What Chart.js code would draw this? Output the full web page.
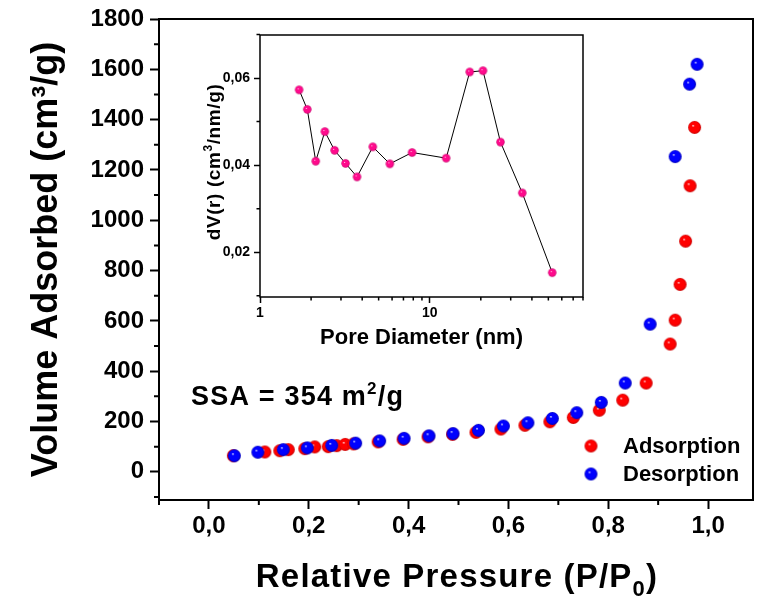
<!DOCTYPE html>
<html>
<head>
<meta charset="utf-8">
<script src="https://cdn.jsdelivr.net/npm/chart.js@4"></script>
<style>
  body { margin: 0; background: #fff; }
  #wrap { position: relative; width: 768px; height: 598px; }
  #mainChart { position: absolute; left: 0; top: 0; }
  #insetChart { position: absolute; left: 200px; top: 25px; }
</style>
</head>
<body>
<div id="wrap">
  <canvas id="mainChart" width="768" height="598"></canvas>
  <canvas id="insetChart" width="400" height="340"></canvas>
</div>
<script>
// isotherm, adsorption branch
const adsP = [0.049, 0.112, 0.142, 0.159, 0.192, 0.212, 0.239, 0.256, 0.273, 0.290, 0.339, 0.389, 0.439, 0.488,
  0.535, 0.585, 0.633, 0.683, 0.730, 0.782, 0.829, 0.876, 0.924, 0.934, 0.944, 0.955, 0.964, 0.973];
const adsV = [64, 79, 84, 88, 92, 99, 100, 104, 109, 111, 119, 129, 139, 149,
  157, 170, 185, 199, 216, 245, 285, 353, 508, 603, 745, 917, 1137, 1369];

// desorption branch
const desP = [0.051, 0.098, 0.149, 0.197, 0.246, 0.294, 0.342, 0.391, 0.441, 0.489, 0.540, 0.590, 0.639, 0.688,
  0.737, 0.786, 0.834, 0.884, 0.934, 0.963, 0.978];
const desV = [64, 78, 88, 95, 105, 114, 123, 133, 143, 152, 165, 182, 195, 212,
  235, 276, 353, 587, 1253, 1541, 1620];

const xTicks = [0, 0.2, 0.4, 0.6, 0.8, 1.0];
const xMinor = [-0.1, 0.1, 0.3, 0.5, 0.7, 0.9];
const yTicks = [0, 200, 400, 600, 800, 1000, 1200, 1400, 1600, 1800];
const yMinor = [-100, 100, 300, 500, 700, 900, 1100, 1300, 1500, 1700];

// pore size distribution (inset)
const poreD = [1.70, 1.90, 2.13, 2.41, 2.75, 3.19, 3.73, 4.62, 5.82, 7.87, 12.5, 17.2, 20.6, 26.1, 35.1, 52.7];
const poreV = [0.0573, 0.0528, 0.0409, 0.0477, 0.0434, 0.0404, 0.0373, 0.0442, 0.0403, 0.0429, 0.0416,
  0.0614, 0.0617, 0.0453, 0.0336, 0.0153];
const insetXTicks = [1, 10];
const insetXMinor = [2, 3, 4, 5, 6, 7, 8, 9, 20, 30, 40, 50, 60, 70, 80];
const insetYTicks = [0.02, 0.04, 0.06];
const insetYMinor = [0.01, 0.03, 0.05, 0.07];

const FONT = "'Liberation Sans', Arial, sans-serif";

// little shaded balls like the origin symbols
function makeBall(color, dark, r) {
  const c = document.createElement("canvas");
  const s = Math.ceil(r * 2 + 2);
  c.width = s; c.height = s;
  const g = c.getContext("2d");
  const cx = s / 2, cy = s / 2;
  const grad = g.createRadialGradient(cx - r * 0.25, cy - r * 0.3, 0, cx, cy, r);
  grad.addColorStop(0, "#ffffff");
  grad.addColorStop(0.22, color);
  grad.addColorStop(0.75, color);
  grad.addColorStop(1, dark);
  g.fillStyle = grad;
  g.beginPath();
  g.arc(cx, cy, r, 0, Math.PI * 2);
  g.fill();
  return c;
}

const redBall = makeBall("#ff0000", "#c80000", 6.5);
const blueBall = makeBall("#0000ff", "#0000b8", 6.5);
const pinkBall = makeBall("#ff0a8c", "#c8006a", 4.2);

const toXY = (xs, ys) => xs.map((x, i) => ({ x: x, y: ys[i] }));

// draws text with pieces that can be raised or lowered
function drawRich(ctx, parts, x, y, align, spacing, baseline) {
  ctx.letterSpacing = (spacing || 0) + "px";
  let total = 0;
  parts.forEach(p => {
    ctx.font = "bold " + p.size + "px " + FONT;
    p.w = ctx.measureText(p.text).width;
    total += p.w;
  });
  let cx = align === "center" ? x - total / 2 : x;
  ctx.textAlign = "left";
  ctx.textBaseline = baseline || "alphabetic";
  parts.forEach(p => {
    ctx.font = "bold " + p.size + "px " + FONT;
    ctx.fillText(p.text, cx, y + (p.dy || 0));
    cx += p.w;
  });
  ctx.letterSpacing = "0px";
}

function minorTicks(ctx, chart, xs, ys, len, width) {
  const xs_ = chart.scales.x, ys_ = chart.scales.y;
  const a = chart.chartArea;
  ctx.save();
  ctx.strokeStyle = "#000";
  ctx.lineWidth = width;
  ctx.beginPath();
  xs.forEach(v => {
    const px = xs_.getPixelForValue(v);
    ctx.moveTo(px, a.bottom);
    ctx.lineTo(px, a.bottom + len);
  });
  ys.forEach(v => {
    const py = ys_.getPixelForValue(v);
    ctx.moveTo(a.left, py);
    ctx.lineTo(a.left - len, py);
  });
  ctx.stroke();
  ctx.restore();
}

const mainDecor = {
  id: "mainDecor",
  afterDraw(chart) {
    const ctx = chart.ctx;
    const a = chart.chartArea;
    ctx.save();
    ctx.strokeStyle = "#000";
    ctx.lineWidth = 2;
    ctx.strokeRect(a.left, a.top, a.right - a.left, a.bottom - a.top);
    ctx.restore();
    minorTicks(ctx, chart, xMinor, yMinor, 5, 2);

    ctx.save();
    ctx.fillStyle = "#000";
    // x axis title with subscript
    drawRich(ctx, [
      { text: "Relative Pressure (P/P", size: 33 },
      { text: "0", size: 22, dy: 9 },
      { text: ")", size: 33 }
    ], (a.left + a.right) / 2 + 1, 587, "center", 1.2);

    // surface area note
    drawRich(ctx, [
      { text: "SSA = 354 m", size: 27 },
      { text: "2", size: 17, dy: -11 },
      { text: "/g", size: 27 }
    ], 191, 405, "left", 1.2);

    // legend
    ctx.drawImage(redBall, 591 - redBall.width / 2, 446 - redBall.height / 2);
    ctx.drawImage(blueBall, 591 - blueBall.width / 2, 474 - blueBall.height / 2);
    ctx.font = "bold 22px " + FONT;
    ctx.textAlign = "left";
    ctx.textBaseline = "middle";
    ctx.fillText("Adsorption", 623, 447);
    ctx.fillText("Desorption", 623, 475);
    ctx.restore();
  }
};

const insetDecor = {
  id: "insetDecor",
  afterDraw(chart) {
    const ctx = chart.ctx;
    const a = chart.chartArea;
    ctx.save();
    ctx.strokeStyle = "#000";
    ctx.lineWidth = 1.5;
    ctx.strokeRect(a.left, a.top, a.right - a.left, a.bottom - a.top);
    ctx.restore();
    minorTicks(ctx, chart, insetXMinor, insetYMinor, 3.5, 1.5);

    // rotated y title with a real superscript
    ctx.save();
    ctx.fillStyle = "#000";
    ctx.translate(15, (a.top + a.bottom) / 2 - 4);
    ctx.rotate(-Math.PI / 2);
    drawRich(ctx, [
      { text: "dV(r) (cm", size: 19 },
      { text: "3", size: 12, dy: -6 },
      { text: "/nm/g)", size: 19 }
    ], 0, 0, "center", 0.6, "middle");
    ctx.restore();
  }
};

new Chart(document.getElementById("mainChart"), {
  type: "scatter",
  data: {
    datasets: [
      { label: "Adsorption", data: toXY(adsP, adsV), pointStyle: redBall, pointRadius: 6, order: 1 },
      { label: "Desorption", data: toXY(desP, desV), pointStyle: blueBall, pointRadius: 6, order: 0 }
    ]
  },
  options: {
    responsive: false,
    animation: false,
    layout: { padding: { left: 0, top: 19, right: 15, bottom: 0 } },
    plugins: { legend: { display: false }, tooltip: { enabled: false } },
    scales: {
      x: {
        type: "linear",
        min: -0.1,
        max: 1.09,
        afterBuildTicks: s => { s.ticks = xTicks.map(v => ({ value: v })); },
        afterFit: s => { s.height = 98; },
        border: { display: false },
        grid: { drawOnChartArea: false, drawTicks: true, tickLength: 9, tickWidth: 2, tickColor: "#000" },
        ticks: {
          color: "#000",
          padding: 3,
          font: { family: FONT, size: 24, weight: "bold" },
          callback: v => v.toFixed(1).replace(".", ",")
        }
      },
      y: {
        min: -112,
        max: 1800,
        afterBuildTicks: s => { s.ticks = yTicks.map(v => ({ value: v })); },
        afterFit: s => { s.width = 159; s.paddingTop = 0; s.paddingBottom = 0; },
        border: { display: false },
        grid: { drawOnChartArea: false, drawTicks: true, tickLength: 9, tickWidth: 2, tickColor: "#000" },
        ticks: {
          color: "#000",
          padding: 6,
          font: { family: FONT, size: 24, weight: "bold" },
          callback: v => String(v)
        },
        title: {
          display: true,
          text: "Volume Adsorbed (cm³/g)",
          color: "#000",
          font: { family: FONT, size: 36, weight: "bold" },
          padding: { top: 25, bottom: 0 }
        }
      }
    }
  },
  plugins: [mainDecor]
});

new Chart(document.getElementById("insetChart"), {
  type: "scatter",
  data: {
    datasets: [{
      label: "PSD",
      data: toXY(poreD, poreV),
      showLine: true,
      borderColor: "#000",
      borderWidth: 1,
      pointStyle: pinkBall,
      pointRadius: 4
    }]
  },
  options: {
    responsive: false,
    animation: false,
    layout: { padding: { left: 0, top: 10, right: 17, bottom: 0 } },
    plugins: { legend: { display: false }, tooltip: { enabled: false } },
    scales: {
      x: {
        type: "logarithmic",
        min: 1,
        max: 80,
        afterBuildTicks: s => { s.ticks = insetXTicks.map(v => ({ value: v })); },
        afterFit: s => { s.height = 68; },
        border: { display: false },
        grid: { drawOnChartArea: false, drawTicks: true, tickLength: 6, tickWidth: 1.5, tickColor: "#000" },
        ticks: {
          color: "#000",
          padding: 2,
          font: { family: FONT, size: 14, weight: "bold" },
          callback: v => String(v)
        },
        title: {
          display: true,
          text: "Pore Diameter (nm)",
          color: "#000",
          font: { family: FONT, size: 22, weight: "bold" },
          padding: { top: 0, bottom: 14 }
        }
      },
      y: {
        min: 0.0097,
        max: 0.0699,
        afterBuildTicks: s => { s.ticks = insetYTicks.map(v => ({ value: v })); },
        afterFit: s => { s.width = 60; s.paddingTop = 0; s.paddingBottom = 0; },
        border: { display: false },
        grid: { drawOnChartArea: false, drawTicks: true, tickLength: 6, tickWidth: 1.5, tickColor: "#000" },
        ticks: {
          color: "#000",
          padding: 4,
          font: { family: FONT, size: 14, weight: "bold" },
          callback: v => v.toFixed(2).replace(".", ",")
        }
      }
    }
  },
  plugins: [insetDecor]
});
</script>
</body>
</html>
